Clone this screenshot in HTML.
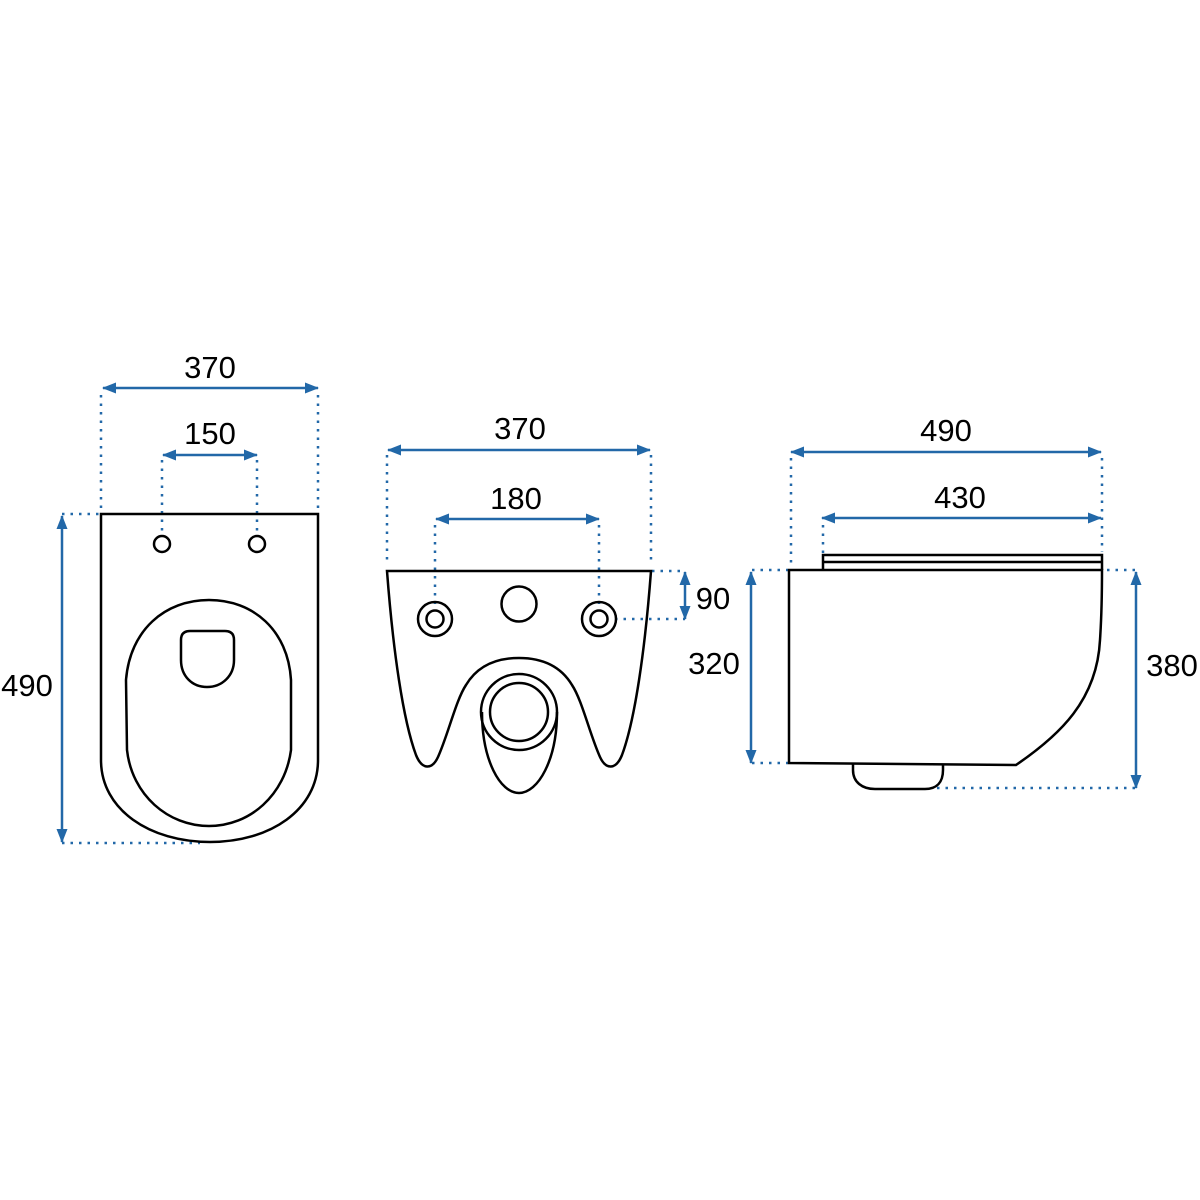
<!DOCTYPE html>
<html><head><style>body{margin:0;background:#fff}svg{display:block}</style></head>
<body>
<svg width="1200" height="1200" viewBox="0 0 1200 1200" xmlns="http://www.w3.org/2000/svg">
<defs>
<marker id="a" viewBox="0 0 14 11" refX="13" refY="5.5" markerWidth="14" markerHeight="11" markerUnits="userSpaceOnUse" orient="auto-start-reverse"><path d="M0,0 L14,5.5 L0,11 Z" fill="#2268a8"/></marker>
</defs>
<g fill="none" stroke="#2268a8" stroke-width="2.5" stroke-dasharray="2.5 6">
<path d="M101,395V510M318,395V510M162,460V535M257,460V535M62,514H100M62,843H200"/>
<path d="M387,455V565M651,455V565M435,525V605M599,525V605M652,571H682M615,619H685"/>
<path d="M791,458V565M823,525V553M1102,458V552M752,570H788M752,763H788M1107,570H1135M937,788H1135"/>
</g>
<g stroke="#2268a8" stroke-width="2.5" marker-start="url(#a)" marker-end="url(#a)">
<line x1="103" y1="388" x2="318" y2="388"/>
<line x1="163" y1="455" x2="257" y2="455"/>
<line x1="62" y1="516" x2="62" y2="842"/>
<line x1="388" y1="450" x2="650" y2="450"/>
<line x1="436" y1="519" x2="599" y2="519"/>
<line x1="685" y1="572" x2="685" y2="619"/>
<line x1="791" y1="452" x2="1101" y2="452"/>
<line x1="822" y1="518" x2="1101" y2="518"/>
<line x1="751" y1="572" x2="751" y2="763"/>
<line x1="1136" y1="572" x2="1136" y2="788"/>
</g>
<g fill="none" stroke="#000" stroke-width="2.5">
<path d="M101,514 L318,514 L318,760 C318,810 270,842 210,842 C150,842 101,810 101,760 Z"/>
<circle cx="162" cy="544" r="8"/><circle cx="257" cy="544" r="8"/>
<path d="M126,680 C130,630 165,600 209,600 C253,600 288,630 291,680 L291,750 C285,795 250,826 209,826 C168,826 132,795 127,750 Z"/>
<path d="M181,640 Q181,631 190,631 L225,631 Q234,631 234,640 L234,660 C234,676 222,687 207,687 C192,687 181,676 181,660 Z"/>
<path d="M387,571 L651,571 C645,650 635,720 622,755 C616,770 606,770 600,757 C590,735 582,700 572,685 C560,665 540,658 519,658 C498,658 478,665 466,685 C456,700 448,735 438,757 C432,770 422,770 416,755 C403,720 393,650 387,571 Z"/>
<circle cx="435" cy="619" r="17"/><circle cx="435" cy="619" r="8.5"/>
<circle cx="599" cy="619" r="17"/><circle cx="599" cy="619" r="8.5"/>
<circle cx="519" cy="604" r="17.5"/>
<circle cx="519" cy="712" r="38"/><circle cx="519" cy="712" r="29"/>
<path d="M482,712 C482,760 500,793 519,793 C538,793 557,760 557,712"/>
<path d="M789,570 L1102,570 C1102,600 1101,625 1100,640 C1097,700 1060,735 1016,765 L789,763 Z"/>
<path d="M823,570 V555 H1102 V570 M823,562 H1102"/>
<path d="M853,764 V770 C853,782 862,789 875,789 L925,789 C937,789 943,782 943,770 V764"/>
</g>
<g font-family="Liberation Sans, sans-serif" font-size="31" fill="#000" text-anchor="middle">
<text x="210" y="378">370</text>
<text x="210" y="444">150</text>
<text x="27" y="696">490</text>
<text x="520" y="439">370</text>
<text x="516" y="509">180</text>
<text x="713" y="609">90</text>
<text x="714" y="674">320</text>
<text x="946" y="441">490</text>
<text x="960" y="508">430</text>
<text x="1172" y="676">380</text>
</g>
</svg>
</body></html>
